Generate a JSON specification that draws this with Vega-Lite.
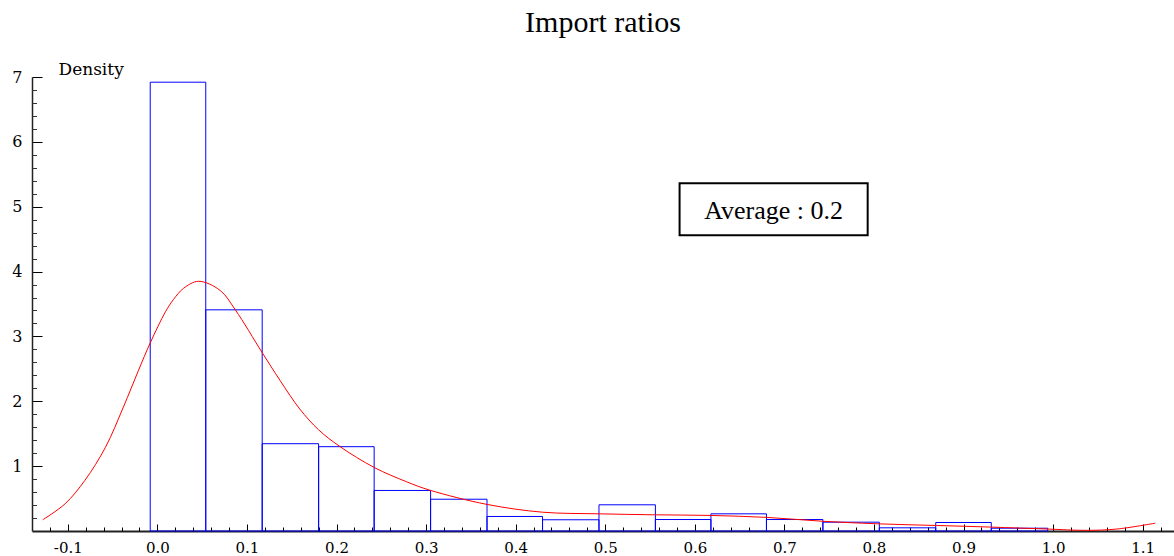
{
  "$schema": "https://vega.github.io/schema/vega-lite/v6.json",
  "width": 1142,
  "height": 454,
  "autosize": {"type": "none"},
  "padding": {"left": 32, "top": 77, "right": 0, "bottom": 25},
  "background": "white",
  "title": {"text": "Import ratios", "font": "Liberation Serif", "fontSize": 30, "fontWeight": "normal", "color": "black", "anchor": "middle", "offset": 22},
  "config": {"view": {"stroke": null}, "axis": {"grid": false}},
  "datasets": {
    "bins": [
      {"bin_start": -0.008, "bin_end": 0.054, "density": 6.92},
      {"bin_start": 0.054, "bin_end": 0.117, "density": 3.41},
      {"bin_start": 0.117, "bin_end": 0.180, "density": 1.346},
      {"bin_start": 0.180, "bin_end": 0.242, "density": 1.30},
      {"bin_start": 0.242, "bin_end": 0.305, "density": 0.625},
      {"bin_start": 0.305, "bin_end": 0.368, "density": 0.49},
      {"bin_start": 0.368, "bin_end": 0.430, "density": 0.224},
      {"bin_start": 0.430, "bin_end": 0.493, "density": 0.173},
      {"bin_start": 0.493, "bin_end": 0.556, "density": 0.404},
      {"bin_start": 0.556, "bin_end": 0.618, "density": 0.177},
      {"bin_start": 0.618, "bin_end": 0.680, "density": 0.265},
      {"bin_start": 0.680, "bin_end": 0.743, "density": 0.177},
      {"bin_start": 0.743, "bin_end": 0.806, "density": 0.136},
      {"bin_start": 0.806, "bin_end": 0.869, "density": 0.049},
      {"bin_start": 0.869, "bin_end": 0.931, "density": 0.131},
      {"bin_start": 0.931, "bin_end": 0.994, "density": 0.043}
    ],
    "curve": [
      {"v": -0.128, "d": 0.173},
      {"v": -0.103, "d": 0.42},
      {"v": -0.081, "d": 0.78},
      {"v": -0.058, "d": 1.29},
      {"v": -0.038, "d": 1.91},
      {"v": -0.021, "d": 2.48},
      {"v": -0.008, "d": 2.90},
      {"v": 0.009, "d": 3.38},
      {"v": 0.018, "d": 3.57},
      {"v": 0.029, "d": 3.74},
      {"v": 0.046, "d": 3.85},
      {"v": 0.070, "d": 3.71},
      {"v": 0.087, "d": 3.41},
      {"v": 0.117, "d": 2.75},
      {"v": 0.137, "d": 2.32},
      {"v": 0.159, "d": 1.88},
      {"v": 0.180, "d": 1.56},
      {"v": 0.204, "d": 1.30},
      {"v": 0.242, "d": 0.98},
      {"v": 0.278, "d": 0.76},
      {"v": 0.304, "d": 0.63},
      {"v": 0.368, "d": 0.41},
      {"v": 0.430, "d": 0.29},
      {"v": 0.493, "d": 0.265},
      {"v": 0.553, "d": 0.25},
      {"v": 0.617, "d": 0.24},
      {"v": 0.680, "d": 0.21},
      {"v": 0.743, "d": 0.15},
      {"v": 0.806, "d": 0.11},
      {"v": 0.870, "d": 0.085},
      {"v": 0.931, "d": 0.06},
      {"v": 0.994, "d": 0.03},
      {"v": 1.037, "d": 0.01},
      {"v": 1.071, "d": 0.03},
      {"v": 1.114, "d": 0.12}
    ],
    "note": [{"label": "Average : 0.2"}]
  },
  "layer": [
    {
      "data": {"name": "bins"},
      "mark": {"type": "rect", "fill": "transparent", "stroke": "#0000ff", "strokeWidth": 1},
      "encoding": {
        "x": {
          "field": "bin_start", "type": "quantitative",
          "scale": {"domain": [-0.14, 1.135], "nice": false, "zero": false},
          "axis": {
            "orient": "bottom", "title": null,
            "values": [-0.1, 0, 0.1, 0.2, 0.3, 0.4, 0.5, 0.6, 0.7, 0.8, 0.9, 1.0, 1.1],
            "labelExpr": "(datum.value < 0 ? '-' : '') + format(abs(datum.value), '.1f')",
            "labelFont": "DejaVu Serif", "labelFontSize": 15, "labelColor": "black",
            "labelFlush": false, "labelOverlap": false, "labelBound": false,
            "labelPadding": 16, "labelBaseline": "top",
            "tickSize": -7, "tickColor": "black", "tickWidth": 1,
            "domainColor": "#222222", "domainWidth": 1.8, "grid": false
          }
        },
        "x2": {"field": "bin_end"},
        "y": {
          "field": "density", "type": "quantitative",
          "scale": {"domain": [0, 7], "nice": false, "zero": true},
          "axis": {
            "orient": "left",
            "values": [1, 2, 3, 4, 5, 6, 7],
            "title": "Density", "titleAngle": 0, "titleAlign": "left", "titleBaseline": "alphabetic",
            "titleX": 26, "titleY": -3, "titleFont": "DejaVu Serif", "titleFontSize": 17,
            "titleFontWeight": "normal", "titleColor": "black",
            "labelFont": "DejaVu Serif", "labelFontSize": 16, "labelColor": "black",
            "labelFlush": false, "labelOverlap": false, "labelBound": false,
            "labelPadding": 20,
            "tickSize": -10, "tickColor": "black", "tickWidth": 1,
            "domainColor": "#222222", "domainWidth": 1.5, "grid": false
          }
        },
        "y2": {"datum": 0}
      }
    },
    {
      "data": {"name": "curve"},
      "mark": {"type": "line", "color": "#ff0000", "strokeWidth": 1, "interpolate": "catmull-rom"},
      "encoding": {
        "x": {
          "field": "v", "type": "quantitative",
          "axis": {
            "orient": "bottom", "title": null, "labels": false, "domain": false, "grid": false,
            "values": [-0.12, -0.08, -0.06, -0.04, -0.02, 0.02, 0.04, 0.06, 0.08, 0.12, 0.14, 0.16, 0.18, 0.22, 0.24, 0.26, 0.28, 0.32, 0.34, 0.36, 0.38, 0.42, 0.44, 0.46, 0.48, 0.52, 0.54, 0.56, 0.58, 0.62, 0.64, 0.66, 0.68, 0.72, 0.74, 0.76, 0.78, 0.82, 0.84, 0.86, 0.88, 0.92, 0.94, 0.96, 0.98, 1.02, 1.04, 1.06, 1.08, 1.12],
            "tickSize": -4, "tickColor": "black", "tickWidth": 1
          }
        },
        "y": {
          "field": "d", "type": "quantitative",
          "axis": {
            "orient": "left", "title": null, "labels": false, "domain": false, "grid": false,
            "values": [0.2, 0.4, 0.6, 0.8, 1.2, 1.4, 1.6, 1.8, 2.2, 2.4, 2.6, 2.8, 3.2, 3.4, 3.6, 3.8, 4.2, 4.4, 4.6, 4.8, 5.2, 5.4, 5.6, 5.8, 6.2, 6.4, 6.6, 6.8],
            "tickSize": -4.5, "tickColor": "#333333", "tickWidth": 1
          }
        }
      }
    },
    {
      "data": {"name": "note"},
      "mark": {"type": "rect", "fill": "white", "stroke": "black", "strokeWidth": 2},
      "encoding": {
        "x": {"datum": 0.583, "type": "quantitative", "axis": null},
        "x2": {"datum": 0.793},
        "y": {"datum": 5.36, "type": "quantitative", "axis": null},
        "y2": {"datum": 4.56}
      }
    },
    {
      "data": {"name": "note"},
      "mark": {"type": "text", "font": "Liberation Serif", "fontSize": 26, "color": "black", "align": "center", "baseline": "alphabetic"},
      "encoding": {
        "x": {"datum": 0.688, "type": "quantitative", "axis": null},
        "y": {"datum": 4.818, "type": "quantitative", "axis": null},
        "text": {"field": "label"}
      }
    }
  ],
  "resolve": {"axis": {"x": "independent", "y": "independent"}}
}
